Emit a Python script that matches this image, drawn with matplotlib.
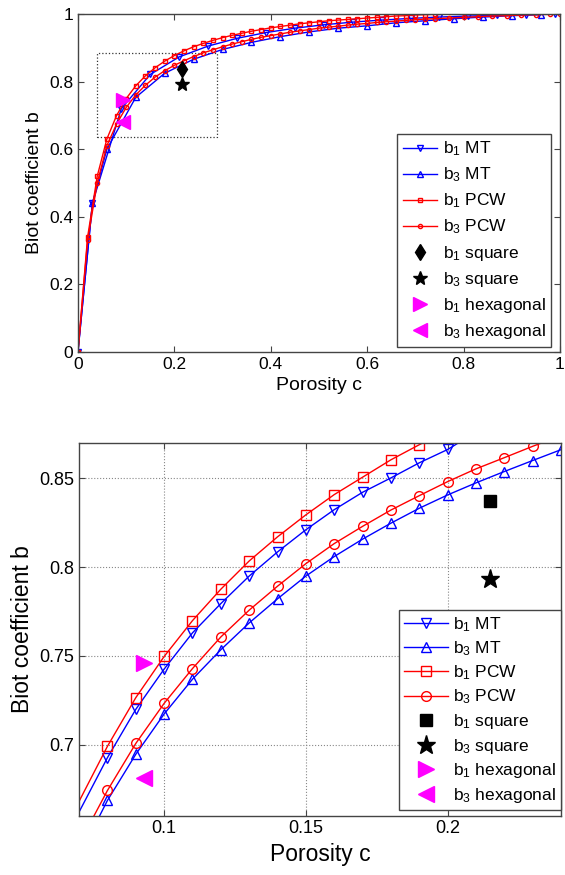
import numpy as np
import matplotlib
matplotlib.use("Agg")
import matplotlib.pyplot as plt
from matplotlib.patches import Rectangle

plt.rcParams['font.family'] = ['Liberation Sans', 'DejaVu Sans']
plt.rcParams['mathtext.fontset'] = 'custom'
plt.rcParams['mathtext.rm'] = 'Liberation Sans'
plt.rcParams['mathtext.it'] = 'Liberation Sans'

# ---- full range (top panel) ----
c_mt1 = [0, 0.03, 0.09, 0.15, 0.21, 0.27, 0.33, 0.39, 0.45, 0.51, 0.57, 0.63,
         0.69, 0.75, 0.81, 0.87, 0.93, 0.99]
b_mt1 = [0, 0.44, 0.7198, 0.8210, 0.873, 0.905, 0.928, 0.945, 0.958, 0.968,
         0.976, 0.982, 0.987, 0.991, 0.994, 0.996, 0.998, 1.0]
c_mt3 = [0, 0.03, 0.06, 0.12, 0.18, 0.24, 0.30, 0.36, 0.42, 0.48, 0.54, 0.60,
         0.66, 0.72, 0.78, 0.84, 0.90, 0.96]
b_mt3 = [0, 0.44, 0.60, 0.7534, 0.8247, 0.8661, 0.895, 0.916, 0.933, 0.947,
         0.958, 0.965, 0.974, 0.980, 0.986, 0.991, 0.995, 0.998]
c_pcw1 = [0, 0.02, 0.04, 0.06, 0.08, 0.10, 0.12, 0.14, 0.16, 0.18, 0.20, 0.22,
          0.24, 0.26, 0.28, 0.30, 0.32, 0.34, 0.36, 0.38, 0.40, 0.42, 0.44,
          0.46, 0.48, 0.50, 0.52, 0.54, 0.56, 0.58, 0.60, 0.62, 0.64, 0.66,
          0.68, 0.70, 0.72, 0.74]
b_pcw1 = [0, 0.34, 0.52, 0.63, 0.699, 0.7496, 0.7875, 0.817, 0.8408, 0.8604,
          0.877, 0.891, 0.903, 0.913, 0.922, 0.930, 0.937, 0.943, 0.949, 0.954,
          0.959, 0.963, 0.967, 0.971, 0.974, 0.977, 0.980, 0.982, 0.984, 0.986,
          0.988, 0.990, 0.992, 0.994, 0.995, 0.997, 0.998, 0.999]
c_pcw3 = [0, 0.02, 0.04, 0.06, 0.08, 0.10, 0.12, 0.14, 0.16, 0.18, 0.20, 0.22,
          0.24, 0.26, 0.28, 0.30, 0.32, 0.34, 0.36, 0.38, 0.40, 0.42, 0.44,
          0.46, 0.48, 0.50, 0.52, 0.54, 0.56, 0.58, 0.60, 0.62, 0.64, 0.66,
          0.68, 0.70, 0.72, 0.74, 0.77, 0.80, 0.83, 0.86, 0.89, 0.92, 0.95,
          0.98, 1.0]
b_pcw3 = [0, 0.33, 0.50, 0.61, 0.6741, 0.7232, 0.7606, 0.7892, 0.8132, 0.8321,
          0.8481, 0.8616, 0.874, 0.885, 0.894, 0.903, 0.911, 0.918, 0.925,
          0.931, 0.936, 0.941, 0.946, 0.950, 0.954, 0.958, 0.961, 0.964, 0.967,
          0.970, 0.972, 0.975, 0.977, 0.979, 0.981, 0.983, 0.985, 0.986, 0.988,
          0.990, 0.992, 0.994, 0.995, 0.997, 0.998, 0.999, 1.0]

# ---- zoomed range (bottom panel) ----
c_zoom = [0.07, 0.08, 0.09, 0.10, 0.11, 0.12, 0.13, 0.14, 0.15, 0.16, 0.17,
          0.18, 0.19, 0.20, 0.21, 0.22, 0.23, 0.24]
bz_mt1 = [0.662, 0.6926, 0.7198, 0.7425, 0.7629, 0.7794, 0.7949, 0.8085,
          0.8210, 0.8323, 0.8421, 0.8502, 0.8587, 0.8662, 0.876, 0.882, 0.888,
          0.893]
bz_mt3 = [0.637, 0.6685, 0.6945, 0.7172, 0.7368, 0.7534, 0.7685, 0.7821,
          0.7949, 0.8059, 0.8157, 0.8247, 0.8331, 0.8406, 0.8474, 0.8538,
          0.8600, 0.8661]
bz_pcw1 = [0.668, 0.699, 0.7264, 0.7496, 0.7698, 0.7875, 0.8034, 0.817,
           0.8294, 0.8408, 0.8506, 0.8604, 0.8689, 0.877, 0.884, 0.891, 0.897,
           0.903]
bz_pcw3 = [0.644, 0.6741, 0.7006, 0.7232, 0.7428, 0.7606, 0.7757, 0.7892,
           0.8019, 0.8132, 0.8229, 0.8321, 0.8402, 0.8481, 0.8553, 0.8616,
           0.8680, 0.874]

# unit cell results
c_square = 0.215
b1_square = 0.837
b3_square = 0.793
c_hex = 0.093
b1_hex = 0.746
b3_hex = 0.681

zoom_box = [0.04, 0.637, 0.288, 0.884]  # c0, b0, c1, b1

labels = [r'b$_1$ MT', r'b$_3$ MT', r'b$_1$ PCW', r'b$_3$ PCW',
          r'b$_1$ square', r'b$_3$ square', r'b$_1$ hexagonal', r'b$_3$ hexagonal']

frame = '#444444'
magenta = '#ff00ff'

fig = plt.figure(figsize=(5.65, 8.75), dpi=100)
ax1 = fig.add_axes([0.138, 0.598, 0.853, 0.386])
ax2 = fig.add_axes([0.140, 0.068, 0.853, 0.426])

# top panel
ax1.plot(c_mt1, b_mt1, '-v', color='b', lw=1.0, ms=4, mfc='none', mew=1.0, label=labels[0])
ax1.plot(c_mt3, b_mt3, '-^', color='b', lw=1.0, ms=4, mfc='none', mew=1.0, label=labels[1])
ax1.plot(c_pcw1, b_pcw1, '-s', color='r', lw=1.0, ms=3, mfc='none', mew=1.0, label=labels[2])
ax1.plot(c_pcw3, b_pcw3, '-o', color='r', lw=1.0, ms=3, mfc='none', mew=1.0, label=labels[3])
ax1.plot([c_square], [b1_square], 'd', color='k', ms=8, ls='none', label=labels[4])
ax1.plot([c_square], [b3_square], '*', color='k', ms=10, ls='none', label=labels[5])
ax1.plot([c_hex], [b1_hex], '>', color=magenta, ms=10, ls='none', label=labels[6])
ax1.plot([c_hex], [b3_hex], '<', color=magenta, ms=10, ls='none', label=labels[7])

ax1.add_patch(Rectangle((zoom_box[0], zoom_box[1]), zoom_box[2] - zoom_box[0],
                        zoom_box[3] - zoom_box[1], fill=False, ls=':',
                        lw=0.9, ec='#333333'))

ax1.set_xlim(0, 1)
ax1.set_ylim(0, 1)
top_ticks = [0, 0.2, 0.4, 0.6, 0.8, 1]
top_ticklabels = ['0', '0.2', '0.4', '0.6', '0.8', '1']
ax1.set_xticks(top_ticks)
ax1.set_xticklabels(top_ticklabels)
ax1.set_yticks(top_ticks)
ax1.set_yticklabels(top_ticklabels)
ax1.set_xlabel('Porosity c', fontsize=14)
ax1.set_ylabel('Biot coefficient b', fontsize=14)
leg1 = ax1.legend(loc='lower right', bbox_to_anchor=(0.981, 0.015), fontsize=12.5,
                  handlelength=2.0, handletextpad=0.3, labelspacing=0.42,
                  borderpad=0.3, borderaxespad=0, fancybox=False, framealpha=1)
leg1.get_frame().set_edgecolor(frame)
leg1.get_frame().set_linewidth(1.0)

# bottom panel
mk = dict(lw=1.0, ms=7, mfc='none', mew=1.0, markevery=slice(1, None))
ax2.plot(c_zoom, bz_mt1, '-v', color='b', label=labels[0], **mk)
ax2.plot(c_zoom, bz_mt3, '-^', color='b', label=labels[1], **mk)
ax2.plot(c_zoom, bz_pcw1, '-s', color='r', label=labels[2], **mk)
ax2.plot(c_zoom, bz_pcw3, '-o', color='r', label=labels[3], **mk)
ax2.plot([c_square], [b1_square], 's', color='k', ms=9, ls='none', label=labels[4])
ax2.plot([c_square], [b3_square], '*', color='k', ms=14, ls='none', label=labels[5])
ax2.plot([c_hex], [b1_hex], '>', color=magenta, ms=11, ls='none', label=labels[6])
ax2.plot([c_hex], [b3_hex], '<', color=magenta, ms=11, ls='none', label=labels[7])

ax2.set_xlim(0.07, 0.24)
ax2.set_ylim(0.66, 0.87)
ax2.set_xticks([0.1, 0.15, 0.2])
ax2.set_xticklabels(['0.1', '0.15', '0.2'])
ax2.set_yticks([0.7, 0.75, 0.8, 0.85])
ax2.set_yticklabels(['0.7', '0.75', '0.8', '0.85'])
ax2.grid(True, ls=':', color='#888888', lw=0.8)
ax2.set_xlabel('Porosity c', fontsize=16.5)
ax2.set_ylabel('Biot coefficient b', fontsize=16.5)
leg2 = ax2.legend(loc='lower right', bbox_to_anchor=(1.0, 0.015), fontsize=12.5,
                  handlelength=2.5, handletextpad=0.3, labelspacing=0.32,
                  borderpad=0.3, borderaxespad=0, fancybox=False, framealpha=1)
leg2.get_frame().set_edgecolor(frame)
leg2.get_frame().set_linewidth(1.0)

for ax in (ax1, ax2):
    ax.tick_params(direction='in', top=True, right=True, length=4,
                   color=frame, labelsize=12.5 if ax is ax1 else 13)
    for s in ax.spines.values():
        s.set_color(frame)
        s.set_linewidth(1.0)

fig.savefig('out.png', dpi=100)
